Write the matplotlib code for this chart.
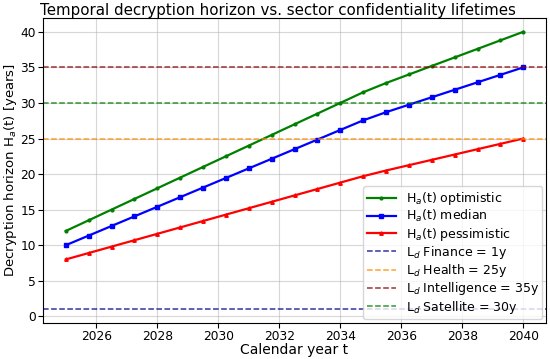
import numpy as np
import matplotlib.pyplot as plt

# calendar years sampled every 0.75 y
years = [2025.0, 2025.75, 2026.5, 2027.25, 2028.0, 2028.75, 2029.5, 2030.25,
         2031.0, 2031.75, 2032.5, 2033.25, 2034.0, 2034.75, 2035.5, 2036.25,
         2037.0, 2037.75, 2038.5, 2039.25, 2040.0]

h_opt = [12, 13.5, 15, 16.5, 18, 19.5, 21, 22.5, 24, 25.5, 27, 28.5, 30, 31.5,
         32.8, 34, 35.2, 36.4, 37.6, 38.8, 40]
h_med = [10, 11.35, 12.7, 14.05, 15.4, 16.75, 18.1, 19.45, 20.8, 22.15, 23.5,
         24.85, 26.2, 27.55, 28.7, 29.75, 30.8, 31.85, 32.9, 33.95, 35]
h_pes = [8, 8.9, 9.8, 10.7, 11.6, 12.5, 13.4, 14.3, 15.2, 16.1, 17, 17.9, 18.8,
         19.7, 20.5, 21.25, 22, 22.75, 23.5, 24.25, 25]

sectors = ["Finance", "Health", "Intelligence", "Satellite"]
lifetimes = [1, 25, 35, 30]
sector_colors = ["darkblue", "darkorange", "darkred", "green"]

fig, ax = plt.subplots(figsize=(5.5, 3.59), dpi=100)

ax.plot(years, h_opt, color="green", marker=".", markersize=4, linewidth=1.6,
        label=r"H$_a$(t) optimistic")
ax.plot(years, h_med, color="blue", marker="s", markersize=2.5, linewidth=1.6,
        label=r"H$_a$(t) median")
ax.plot(years, h_pes, color="red", marker="^", markersize=2.5, linewidth=1.6,
        label=r"H$_a$(t) pessimistic")

for name, L, c in zip(sectors, lifetimes, sector_colors):
    ax.axhline(L, color=c, linestyle="--", linewidth=1.1, alpha=0.8,
               label=r"L$_d$ " + name + " = " + str(L) + "y")

fig.suptitle("Temporal decryption horizon vs. sector confidentiality lifetimes",
             fontsize=10.8, x=0.505, y=0.993)
ax.set_xlabel("Calendar year t", fontsize=10, labelpad=0)
ax.set_ylabel(r"Decryption horizon H$_a$(t) [years]", fontsize=9.5)
ax.yaxis.set_label_coords(-0.047, 0.5)
ax.tick_params(labelsize=8.8, pad=1.5)
ax.set_xticks(range(2026, 2041, 2))
ax.grid(True, alpha=0.5)
ax.legend(fontsize=9, loc="lower right", framealpha=0.8, labelspacing=0.1,
          handlelength=2.3, borderaxespad=0.3, borderpad=0.3)

plt.subplots_adjust(left=0.078, right=0.993, top=0.95, bottom=0.1)
plt.savefig("out.png")
